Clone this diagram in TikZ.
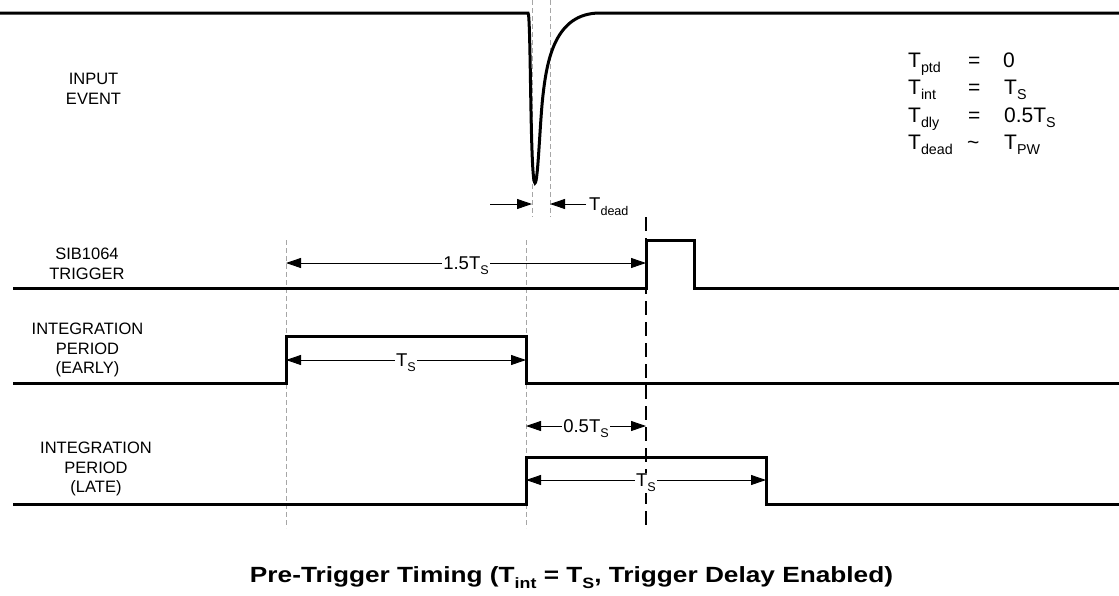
\documentclass[tikz,border=0pt]{standalone}
\usepackage{fontspec}
\setmainfont{Liberation Sans}
\usepackage{graphicx}
\usetikzlibrary{arrows.meta}
\newcommand\lo[1]{\raisebox{-0.28em}{\scalebox{0.68}{#1}}}
\begin{document}
\begin{tikzpicture}[x=1pt,y=-1pt,
  wave/.style={line width=3pt, line join=miter},
  guide/.style={black!35, line width=0.9pt, dash pattern=on 5pt off 3pt},
  marker/.style={black, line width=2pt, dash pattern=on 14pt off 7pt},
  dimone/.style={line width=0.9pt, -{Triangle[length=15pt,width=10pt]}},
  dimboth/.style={line width=0.9pt, {Triangle[length=15pt,width=10pt]}-{Triangle[length=15pt,width=10pt]}},
  lbl/.style={font=\fontsize{16.5}{19.5}\selectfont, align=center, anchor=north, inner sep=0pt},
  dlbl/.style={font=\fontsize{18.5}{22}\selectfont, fill=white, inner sep=1pt, yshift=-2.6pt},
  eq/.style={font=\fontsize{21}{25}\selectfont, anchor=base west, inner sep=0pt}]
\useasboundingbox (0,0) rectangle (1119,595);

% named points
\coordinate (ie0) at (0,13);     \coordinate (ie1) at (1119,13);
\coordinate (tr0) at (13,288);   \coordinate (tr1) at (1119,288);
\coordinate (ea0) at (13,383);   \coordinate (ea1) at (1119,383);
\coordinate (la0) at (13,504);   \coordinate (la1) at (1119,504);

% guide lines
\draw[guide] (532,0) -- (532,217);
\draw[guide] (550,0) -- (550,217);
\draw[guide] (286,240) -- (286,528);
\draw[guide] (526,240) -- (526,528);
\draw[marker] (646,217) -- (646,528);

% input event
\draw[wave] (ie0) -- (528,13) .. controls (531,13) and (530,183) .. (535,183)
  .. controls (538,183) and (540,120) .. (543,95)
  .. controls (547,60) and (555,13) .. (600,13) -- (ie1);

% trigger
\draw[wave] (tr0) -- (646,288) -- (646,240) -- (694,240) -- (694,288) -- (tr1);
% early
\draw[wave] (ea0) -- (286,383) -- (286,336) -- (526,336) -- (526,383) -- (ea1);
% late
\draw[wave] (la0) -- (526,504) -- (526,457) -- (766,457) -- (766,504) -- (la1);

% labels
\node[lbl] (lin) at (93.5,73) {INPUT\\EVENT};
\node[lbl] (ltr) at (87,248) {SIB1064\\TRIGGER};
\node[lbl] (lea) at (87.5,323) {INTEGRATION\\PERIOD\\(EARLY)};
\node[lbl] (lla) at (96,442) {INTEGRATION\\PERIOD\\(LATE)};

% T dead
\coordinate (td1) at (490,204); \coordinate (td2) at (532,204);
\coordinate (td3) at (586,204); \coordinate (td4) at (550,204);
\draw[dimone] (td1) -- (td2);
\draw[dimone] (td3) -- (td4);
\node[font=\fontsize{18.5}{22}\selectfont, anchor=base west, inner sep=0pt] (tdl) at (589,210.6) {T\lo{dead}};

% dimensions
\coordinate (a1) at (286,263); \coordinate (b1) at (646,263);
\draw[dimboth] (a1) -- node[dlbl] (l1) {1.5T\lo{S}} (b1);
\coordinate (a2) at (286,360); \coordinate (b2) at (526,360);
\draw[dimboth] (a2) -- node[dlbl] (l2) {T\lo{S}} (b2);
\coordinate (a3) at (526,426); \coordinate (b3) at (646,426);
\draw[dimboth] (a3) -- node[dlbl] (l3) {0.5T\lo{S}} (b3);
\coordinate (a4) at (526,480); \coordinate (b4) at (766,480);
\draw[dimboth] (a4) -- node[dlbl] (l4) {T\lo{S}} (b4);

% parameter block
\node[eq] (p1) at (908,67) {T\lo{ptd}};
\node[eq] (q1) at (968,67) {=};
\node[eq] (v1) at (1003,67) {0};
\node[eq] (p2) at (908,94) {T\lo{int}};
\node[eq] (q2) at (968,94) {=};
\node[eq] (v2) at (1004,94) {T\lo{S}};
\node[eq] (p3) at (908,122) {T\lo{dly}};
\node[eq] (q3) at (968,122) {=};
\node[eq] (v3) at (1004,122) {0.5T\lo{S}};
\node[eq] (p4) at (908,149) {T\lo{dead}};
\node[eq] (q4) at (967,149) {\textasciitilde};
\node[eq] (v4) at (1004,149) {T\lo{PW}};

% title
\node[font=\fontsize{22}{26}\selectfont\bfseries, anchor=base, inner sep=0pt] (title) at (571.5,582)
  {\resizebox{643pt}{\height}{Pre-Trigger Timing (T\lo{int} = T\lo{S}, Trigger Delay Enabled)}};
\end{tikzpicture}
\end{document}
